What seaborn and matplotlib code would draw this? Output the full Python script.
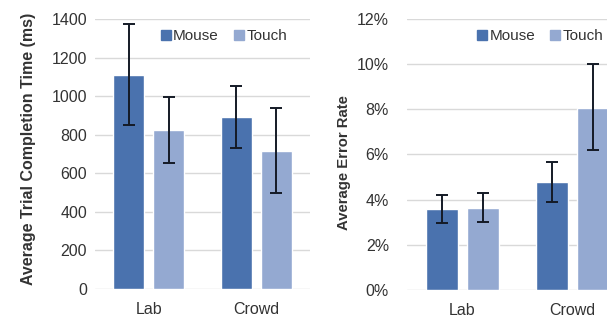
import matplotlib
matplotlib.use("Agg")
import matplotlib.pyplot as plt
from matplotlib.lines import Line2D
from matplotlib.ticker import PercentFormatter
import seaborn as sns
import pandas as pd
import numpy as np

# Study settings and input devices
settings = ["Lab", "Crowd"]
devices = ["Mouse", "Touch"]

# Average trial completion time (ms) with error bar bounds
time_mouse = [1112, 892]
time_touch = [824, 716]
time_mouse_lo = [852, 730]
time_mouse_hi = [1375, 1053]
time_touch_lo = [652, 500]
time_touch_hi = [994, 937]

# Average error rate (%) with error bar bounds
err_mouse = [3.57, 4.77]
err_touch = [3.63, 8.07]
err_mouse_lo = [2.95, 3.90]
err_mouse_hi = [4.21, 5.65]
err_touch_lo = [3.02, 6.20]
err_touch_hi = [4.30, 10.0]

time_ticks = [0, 200, 400, 600, 800, 1000, 1200, 1400]
err_ticks = [0, 2, 4, 6, 8, 10, 12]

colors = {"Mouse": "#4A72AE", "Touch": "#94A9D1"}
text_color = "#333333"

sns.set_theme(style="white")
plt.rcParams["font.family"] = ["Liberation Sans", "DejaVu Sans"]
plt.rcParams["text.color"] = text_color
plt.rcParams["axes.labelcolor"] = text_color
plt.rcParams["xtick.color"] = text_color
plt.rcParams["ytick.color"] = text_color


def make_frame(mouse, touch, m_lo, m_hi, t_lo, t_hi):
    rows = []
    for i, s in enumerate(settings):
        rows.append({"setting": s, "device": "Mouse", "value": mouse[i], "lo": m_lo[i], "hi": m_hi[i]})
        rows.append({"setting": s, "device": "Touch", "value": touch[i], "lo": t_lo[i], "hi": t_hi[i]})
    return pd.DataFrame(rows)


def draw_panel(ax, df, ylim, ticks, ylabel, label_size, label_xy, ytick_pad, legend_x):
    sns.barplot(data=df, x="setting", y="value", hue="device", order=settings,
                hue_order=devices, palette=colors, width=0.744, gap=0.226,
                errorbar=None, ax=ax, legend=False, saturation=1)
    # error bars placed at the centers of the drawn bars
    for patch, dev in zip(ax.patches, [d for d in devices for _ in settings]):
        cx = patch.get_x() + patch.get_width() / 2
        h = patch.get_height()
        row = df[(df["device"] == dev) & (np.isclose(df["value"], h))].iloc[0]
        ax.errorbar(cx, h, yerr=[[h - row["lo"]], [row["hi"] - h]], fmt="none",
                    ecolor="#141a26", elinewidth=1.4, capsize=4.5, capthick=1.4, zorder=5)
    ax.set_xlim(-0.5, 1.5)
    ax.set_ylim(*ylim)
    ax.set_yticks(ticks)
    ax.yaxis.grid(True, color="#D9D9D9", linewidth=1.0)
    ax.set_axisbelow(True)
    for sp in ax.spines.values():
        sp.set_visible(False)
    ax.set_xlabel("")
    ax.set_ylabel(ylabel, fontsize=label_size, fontweight="bold")
    ax.yaxis.set_label_coords(*label_xy)
    ax.tick_params(axis="both", length=0, labelsize=11.5)
    ax.tick_params(axis="x", pad=9.5)
    ax.tick_params(axis="y", pad=ytick_pad)
    handles = [Line2D([], [], marker="s", linestyle="none", markersize=6.5,
                      markerfacecolor=colors[d], markeredgecolor=colors[d]) for d in devices]
    ax.legend(handles, devices, loc="center left", bbox_to_anchor=(legend_x, 0.937), ncol=2,
              frameon=False, fontsize=11, handletextpad=0.1, columnspacing=0.9,
              handlelength=0.8, borderaxespad=0, borderpad=0)


fig = plt.figure(figsize=(6.07, 3.2), dpi=100)
ax1 = fig.add_axes([0.1565, 0.0969, 0.3542, 0.8437])
ax2 = fig.add_axes([0.6705, 0.0938, 0.3641, 0.8468])

df_time = make_frame(time_mouse, time_touch, time_mouse_lo, time_mouse_hi, time_touch_lo, time_touch_hi)
df_err = make_frame(err_mouse, err_touch, err_mouse_lo, err_mouse_hi, err_touch_lo, err_touch_hi)

draw_panel(ax1, df_time, (0, 1400), time_ticks, "Average Trial Completion Time (ms)",
           11.5, (-0.274, 0.52), 5.8, 0.300)
draw_panel(ax2, df_err, (0, 12), err_ticks, "Average Error Rate",
           10.7, (-0.253, 0.472), 13, 0.310)
ax2.yaxis.set_major_formatter(PercentFormatter(decimals=0))

fig.savefig("out.png", dpi=100)
